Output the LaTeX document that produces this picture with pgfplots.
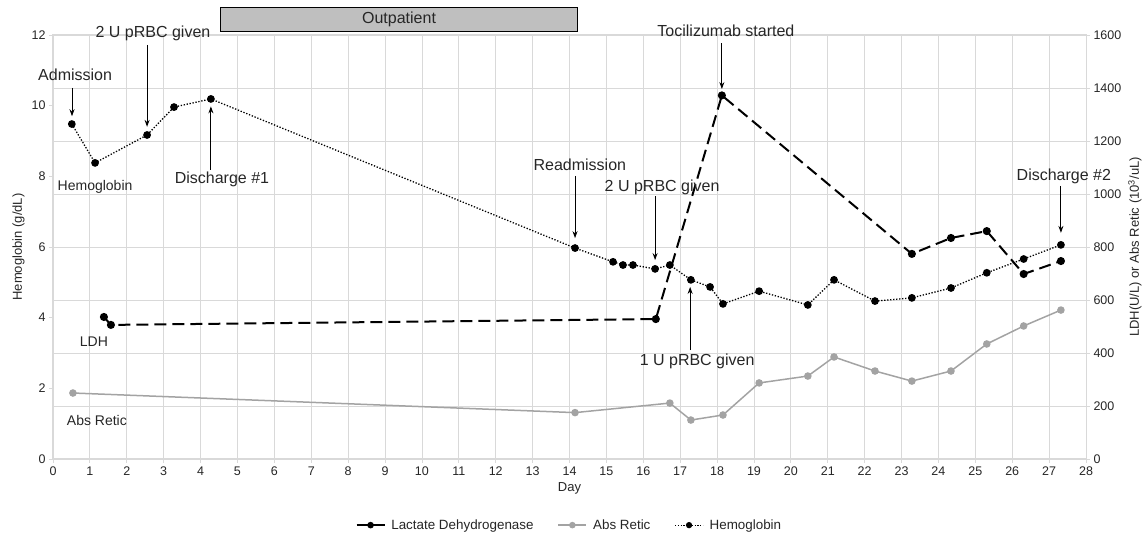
\documentclass[border=0pt]{standalone}
\usepackage{fontspec}
\setmainfont{Liberation Sans}
\usepackage{pgfplots}
\pgfplotsset{compat=1.18}
\usetikzlibrary{arrows.meta}

\definecolor{gridgray}{HTML}{D9D9D9}
\definecolor{reticgray}{HTML}{A3A3A3}
\definecolor{boxgray}{HTML}{BFBFBF}
\definecolor{txt}{HTML}{262626}

\tikzset{ann/.style={-{Stealth[length=7pt,width=5pt]}, line width=1pt, black}}
\pgfplotsset{
  base/.style={
    scale only axis, width=1033pt, height=424pt,
    xmin=0, xmax=28,
    /pgf/number format/assume math mode=true,
    /pgf/number format/1000 sep={},
    tick label style={font=\fontsize{12.5}{14}\selectfont, text=txt},
    label style={font=\fontsize{13}{15}\selectfont, text=txt},
    axis line style={gridgray, line width=1pt},
    tick style={gridgray, line width=0.8pt},
    major tick length=4pt, tick align=outside,
  },
}

\begin{document}
\begin{tikzpicture}

% right axis: LDH and retic, plus all grid lines
\begin{axis}[base,
  ymin=0, ymax=1600, ytick={0,200,...,1600},
  xtick={0,...,28}, xtick pos=bottom, ytick pos=right,
  yticklabel pos=right,
  xmajorgrids, ymajorgrids,
  grid style={gridgray, line width=0.8pt},
  xlabel={Day},
  ylabel={LDH(U/L) or Abs Retic (10\textsuperscript{3}/uL)},
]
\addplot[black, line width=2pt, dash pattern=on 12pt off 6pt,
  mark=*, mark size=3pt, mark options={solid}] coordinates {
(1.38,536) (1.57,506) (16.34,528) (18.13,1372) (23.28,774)
(24.34,834) (25.31,860) (26.31,698) (27.32,747)};
\addplot[reticgray, line width=1.5pt, mark=*, mark size=3pt] coordinates {
(0.54,249) (14.15,175) (16.72,211) (17.29,147) (18.16,166) (19.14,287)
(20.46,313) (21.17,385) (22.28,332) (23.28,294) (24.34,332) (25.31,434)
(26.31,502) (27.32,562)};
\end{axis}

% left axis: hemoglobin and the notes
\begin{axis}[base,
  ymin=0, ymax=12, ytick={0,2,...,12},
  axis x line=none, axis y line*=left,
  ylabel={Hemoglobin (g/dL)},
  clip=false,
  legend style={at={(0.5,-0.156)}, anchor=center, draw=none,
    font=\fontsize{13.4}{15}\selectfont, text=txt,
    /tikz/every odd column/.append style={column sep=4pt},
    /tikz/every even column/.append style={column sep=22pt}},
  legend columns=3,
  legend image code/.code={\draw[mark repeat=2, mark phase=2, #1]
    plot coordinates {(0pt,0pt) (14pt,0pt) (28pt,0pt)};},
]
\addplot[black, line width=1.3pt, dash pattern=on 1.3pt off 1.7pt,
  mark=*, mark size=3.2pt, mark options={solid}, forget plot] coordinates {
(0.51,9.48) (1.14,8.38) (2.55,9.17) (3.28,9.96) (4.28,10.19)
(14.15,5.97) (15.18,5.58) (15.45,5.49) (15.72,5.49) (16.32,5.38)
(16.72,5.49) (17.29,5.07) (17.81,4.87) (18.16,4.39) (19.14,4.75)
(20.46,4.36) (21.17,5.07) (22.28,4.47) (23.28,4.56) (24.34,4.84)
(25.31,5.27) (26.31,5.66) (27.32,6.06)};

\addlegendimage{black, line width=1.5pt, mark=*, mark size=2.5pt}
\addlegendentry{Lactate Dehydrogenase}
\addlegendimage{reticgray, line width=1.5pt, mark=*, mark size=2.5pt}
\addlegendentry{Abs Retic}
\addlegendimage{black, line width=1.2pt, dash pattern=on 1.2pt off 1.6pt, mark=*, mark size=2.5pt, mark options={solid}}
\addlegendentry{Hemoglobin}

% outpatient bar
\draw[black, fill=boxgray, line width=0.8pt] (4.55,12.09) rectangle (14.21,12.77);
\node[font=\fontsize{16}{18}\selectfont, text=txt] at (9.38,12.43) {Outpatient};

% notes
\begin{scope}[every node/.style={font=\fontsize{16}{18}\selectfont, text=txt}]
\node at (0.60,10.87) {Admission};
\draw[ann] (0.515,10.50) -- (0.515,9.70);
\node at (2.71,12.06) {2 U pRBC given};
\draw[ann] (2.55,11.72) -- (2.55,9.40);
\node at (4.58,7.90) {Discharge \#1};
\draw[ann] (4.28,8.18) -- (4.28,9.98);
\node at (14.28,8.32) {Readmission};
\draw[ann] (14.15,8.01) -- (14.15,6.25);
\node at (16.51,7.70) {2 U pRBC given};
\draw[ann] (16.32,7.44) -- (16.32,5.63);
\node at (17.46,2.75) {1 U pRBC given};
\draw[ann] (17.27,3.08) -- (17.27,4.87);
\node at (18.24,12.11) {Tocilizumab started};
\draw[ann] (18.13,11.77) -- (18.13,10.47);
\node at (27.40,8.01) {Discharge \#2};
\draw[ann] (27.32,7.73) -- (27.32,6.40);
\end{scope}
\begin{scope}[every node/.style={font=\fontsize{14}{16}\selectfont, text=txt}]
\node at (1.14,7.70) {Hemoglobin};
\node at (1.11,3.31) {LDH};
\node at (1.19,1.08) {Abs Retic};
\end{scope}
\end{axis}

\pgfresetboundingbox
\path[use as bounding box] (-53pt,-78pt) rectangle (1094pt,459pt);
\end{tikzpicture}
\end{document}
